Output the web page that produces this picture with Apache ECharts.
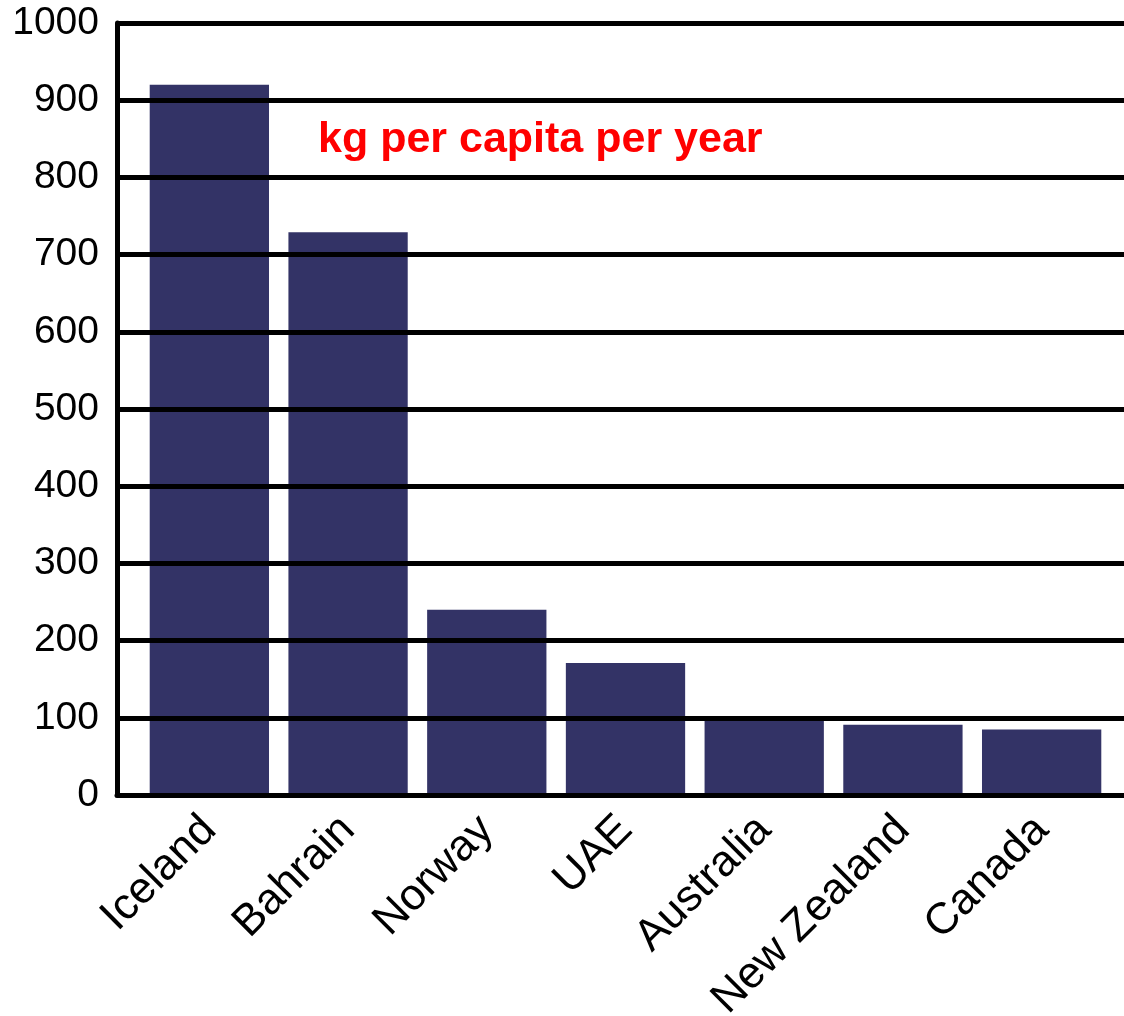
<!DOCTYPE html>
<html>
<head>
<meta charset="utf-8">
<script src="https://cdn.jsdelivr.net/npm/echarts@6/dist/echarts.min.js"></script>
<style>
  html, body { margin: 0; padding: 0; background: #fff; }
  #chart { width: 1124px; height: 1016px; }
</style>
</head>
<body>
<div id="chart"></div>
<script>
  // countries and kg per capita per year
  var countries = ['Iceland', 'Bahrain', 'Norway', 'UAE', 'Australia', 'New Zealand', 'Canada']
  var kgPerCapita = [920, 729, 240, 171, 97, 91, 85]
  var yTicks = [0, 1000, 100]  // min, max, step

  var font = "'Liberation Sans', Arial, sans-serif"
  var chart = echarts.init(document.getElementById('chart'))

  var option = {
    backgroundColor: '#fff',
    animation: false,
    title: {
      text: 'kg per capita per year',
      left: 318,
      top: 119,
      padding: 0,
      textStyle: { color: '#ff0000', fontSize: 43, fontWeight: 'bold', fontFamily: font }
    },
    grid: [
      // frame grid: y axis, gridlines, bottom line
      { left: 117, right: 0, top: 23, bottom: 221, containLabel: false, outerBoundsMode: 'none' },
      // bars grid
      { left: 140, right: 13, top: 23, bottom: 221, containLabel: false, outerBoundsMode: 'none' }
    ],
    xAxis: [
      {
        gridIndex: 0,
        type: 'value',
        min: 0,
        max: 1,
        z: 10,
        axisLine: { show: true, lineStyle: { color: '#000', width: 5 } },
        axisTick: { show: false },
        axisLabel: { show: false },
        splitLine: { show: false }
      },
      {
        gridIndex: 1,
        type: 'category',
        data: countries,
        axisLine: { show: false },
        axisTick: { show: false },
        axisLabel: {
          rotate: 45,
          margin: 28,
          color: '#000',
          fontSize: 44,
          fontFamily: font
        }
      }
    ],
    yAxis: [
      {
        gridIndex: 0,
        type: 'value',
        min: yTicks[0],
        max: yTicks[1],
        interval: yTicks[2],
        z: 10,
        axisLine: { show: true, lineStyle: { color: '#000', width: 5 } },
        axisTick: { show: false },
        axisLabel: {
          margin: 18,
          color: '#000',
          fontSize: 39,
          fontFamily: font,
          formatter: function (v) { return String(v) }
        },
        splitLine: { show: true, lineStyle: { color: '#000', width: 5 } }
      },
      {
        gridIndex: 1,
        type: 'value',
        min: yTicks[0],
        max: yTicks[1],
        show: false
      }
    ],
    series: [
      {
        type: 'bar',
        xAxisIndex: 1,
        yAxisIndex: 1,
        data: kgPerCapita,
        barCategoryGap: '14%',
        itemStyle: { color: '#333366' }
      }
    ]
  }

  chart.setOption(option)
</script>
</body>
</html>
